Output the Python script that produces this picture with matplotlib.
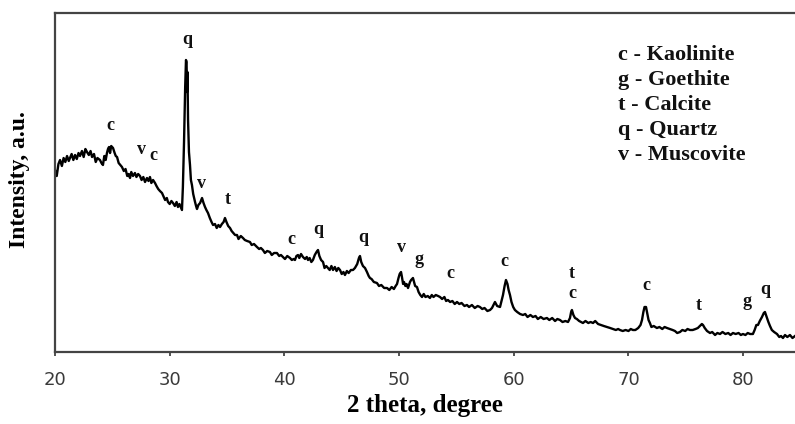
import matplotlib.pyplot as plt

# XRD pattern (2 theta in degrees, intensity in arbitrary units)
two_theta = [
    20.00, 20.15, 20.30, 20.44, 20.60, 20.75, 20.90, 21.05, 21.20, 21.31, 21.45, 21.60, 21.75, 21.90,
    22.05, 22.18, 22.35, 22.50, 22.65, 22.79, 22.95, 23.10, 23.23, 23.40, 23.55, 23.70, 23.92, 24.05,
    24.18, 24.30, 24.42, 24.53, 24.62, 24.71, 24.80, 24.90, 25.06, 25.20, 25.30, 25.41, 25.55, 25.70,
    25.84, 26.00, 26.15, 26.30, 26.42, 26.54, 26.65, 26.80, 26.97, 27.10, 27.25, 27.41, 27.55, 27.70,
    27.85, 28.02, 28.15, 28.28, 28.40, 28.55, 28.72, 28.85, 29.00, 29.15, 29.33, 29.45, 29.60, 29.75,
    29.85, 30.00, 30.15, 30.29, 30.45, 30.60, 30.72, 30.85, 30.99, 31.07, 31.15, 31.25, 31.35, 31.42,
    31.47, 31.51, 31.55, 31.60, 31.68, 31.77, 31.85, 31.94, 32.05, 32.21, 32.30, 32.38, 32.50, 32.65,
    32.82, 32.95, 33.08, 33.20, 33.34, 33.50, 33.65, 33.78, 33.95, 34.10, 34.25, 34.39, 34.55, 34.70,
    34.82, 34.95, 35.10, 35.26, 35.40, 35.55, 35.70, 35.87, 36.00, 36.20, 36.39, 36.55, 36.75, 37.00,
    37.15, 37.35, 37.61, 37.80, 37.95, 38.13, 38.30, 38.50, 38.74, 38.90, 39.10, 39.35, 39.55, 39.70,
    39.88, 40.05, 40.25, 40.49, 40.65, 40.80, 40.92, 41.05, 41.19, 41.30, 41.45, 41.62, 41.80, 41.95,
    42.06, 42.20, 42.35, 42.49, 42.65, 42.80, 42.93, 43.05, 43.20, 43.37, 43.50, 43.65, 43.80, 43.95,
    44.10, 44.24, 44.40, 44.55, 44.70, 44.85, 45.00, 45.15, 45.28, 45.45, 45.60, 45.80, 45.98, 46.15,
    46.35, 46.50, 46.59, 46.70, 46.85, 47.03, 47.20, 47.35, 47.46, 47.60, 47.80, 48.07, 48.25, 48.45,
    48.70, 48.95, 49.15, 49.35, 49.55, 49.70, 49.82, 49.95, 50.05, 50.17, 50.25, 50.35, 50.43, 50.55,
    50.65, 50.78, 50.95, 51.05, 51.21, 51.30, 51.40, 51.56, 51.70, 51.85, 52.00, 52.15, 52.30, 52.50,
    52.69, 52.85, 53.00, 53.20, 53.40, 53.57, 53.75, 53.95, 54.10, 54.26, 54.45, 54.65, 54.85, 55.05,
    55.25, 55.45, 55.70, 55.92, 56.10, 56.35, 56.60, 56.85, 57.05, 57.25, 57.45, 57.70, 57.93, 58.10,
    58.36, 58.55, 58.80, 58.95, 59.06, 59.20, 59.32, 59.45, 59.55, 59.67, 59.80, 59.95, 60.10, 60.30,
    60.55, 60.80, 61.00, 61.20, 61.45, 61.67, 61.90, 62.10, 62.35, 62.60, 62.89, 63.10, 63.35, 63.60,
    63.80, 64.03, 64.25, 64.50, 64.73, 64.90, 65.00, 65.07, 65.20, 65.34, 65.50, 65.70, 66.03, 66.25,
    66.50, 66.70, 66.91, 67.10, 67.35, 67.60, 67.85, 68.13, 68.40, 68.65, 68.90, 69.10, 69.26, 69.50,
    69.75, 70.00, 70.20, 70.39, 70.60, 70.85, 71.05, 71.18, 71.30, 71.40, 71.53, 71.65, 71.75, 71.87,
    72.00, 72.20, 72.48, 72.70, 72.95, 73.15, 73.36, 73.60, 73.85, 74.05, 74.25, 74.49, 74.70, 74.95,
    75.15, 75.36, 75.60, 75.85, 76.05, 76.23, 76.40, 76.50, 76.65, 76.85, 77.11, 77.30, 77.55, 77.75,
    77.98, 78.20, 78.45, 78.70, 78.90, 79.11, 79.35, 79.60, 79.80, 79.98, 80.20, 80.40, 80.60, 80.85,
    81.00, 81.15, 81.29, 81.45, 81.64, 81.80, 81.90, 82.05, 82.20, 82.34, 82.50, 82.70, 82.95, 83.15,
    83.30, 83.47, 83.65, 83.85, 84.08, 84.30, 84.52,
]
intensity = [
    182, 176, 188, 192, 186, 194, 190, 196, 191, 194, 198, 192, 197, 193,
    199, 196, 201, 195, 203, 200, 197, 201, 195, 198, 190, 194, 192, 189,
    187, 196, 192, 199, 203, 205, 199, 206, 204, 199, 196, 195, 189, 187,
    185, 181, 183, 176, 178, 174, 180, 176, 179, 175, 178, 176, 172, 175,
    170, 174, 171, 175, 169, 172, 169, 166, 163, 161, 159, 156, 152, 154,
    150, 148, 151, 149, 146, 150, 145, 148, 144, 142, 165, 210, 265, 292,
    290, 260, 280, 232, 200, 187, 172, 167, 158, 150, 146, 143, 147, 149,
    154, 149, 145, 142, 139, 134, 130, 127, 128, 124, 127, 125, 128, 130,
    134, 130, 126, 124, 121, 119, 117, 117, 113, 116, 114, 112, 111, 110,
    107, 108, 105, 103, 104, 102, 99, 101, 100, 97, 99, 99, 96, 97,
    95, 93, 96, 94, 92, 93, 92, 96, 97, 94, 98, 95, 93, 95,
    92, 94, 90, 92, 97, 100, 102, 96, 92, 90, 84, 86, 84, 82,
    86, 82, 85, 81, 84, 82, 78, 80, 77, 81, 79, 82, 82, 84,
    88, 94, 96, 90, 86, 84, 80, 76, 74, 73, 70, 69, 66, 67,
    64, 64, 62, 65, 63, 66, 68, 74, 78, 80, 75, 68, 70, 66,
    68, 64, 70, 72, 74, 70, 66, 65, 60, 57, 55, 58, 55, 56,
    54, 57, 55, 57, 56, 55, 53, 55, 51, 52, 50, 51, 48, 50,
    48, 49, 46, 47, 45, 47, 44, 46, 45, 43, 44, 41, 42, 44,
    50, 46, 45, 52, 57, 66, 72, 68, 62, 57, 50, 45, 42, 40,
    38, 37, 38, 35, 37, 35, 36, 33, 35, 33, 34, 32, 34, 31,
    33, 32, 30, 31, 30, 34, 40, 42, 37, 34, 33, 31, 29, 31,
    29, 30, 29, 31, 28, 27, 26, 25, 24, 23, 22, 23, 22, 21,
    22, 21, 23, 22, 22, 24, 27, 32, 40, 45, 45, 38, 32, 29,
    25, 26, 24, 25, 23, 25, 24, 23, 22, 21, 19, 20, 22, 21,
    23, 22, 22, 23, 24, 26, 28, 27, 24, 21, 19, 20, 17, 19,
    18, 20, 18, 19, 17, 19, 18, 19, 17, 18, 17, 19, 18, 18,
    22, 27, 27, 31, 35, 39, 40, 35, 30, 26, 22, 20, 18, 15,
    16, 14, 17, 15, 17, 14, 16,
]

# Phase labels above the peaks
peak_labels = ["q", "c", "v", "c", "v", "t", "c", "q", "q", "v", "g", "c", "c", "t", "c", "c", "t", "g", "q"]
peak_x = [31.5, 24.8, 27.5, 28.55, 32.73, 35.08, 40.58, 42.93, 46.85, 50.17, 51.73, 54.44,
          59.15, 65.07, 65.07, 71.53, 76.15, 80.33, 81.9]
peak_y = [312, 227, 203, 196, 169, 152, 112, 123, 115, 104, 93, 78, 91, 78, 59, 66, 46, 50, 62]

legend_lines = ["c - Kaolinite", "g - Goethite", "t - Calcite", "q - Quartz", "v - Muscovite"]

serif = ["Liberation Serif", "DejaVu Serif"]

fig = plt.figure(figsize=(7.95, 4.24), dpi=100)
ax = fig.add_axes([55 / 795, 72 / 424, 740 / 795, 339 / 424])

ax.plot(two_theta, intensity, color="black", linewidth=1.7)

for lab, x, y in zip(peak_labels, peak_x, peak_y):
    ax.text(x, y, lab, ha="center", va="center", fontsize=13, fontweight="bold",
            family=serif, color="#111111")

# key of phase letters, upper right
for i, line in enumerate(legend_lines):
    ax.text(618 / 795, 1 - (55 + i * 25) / 424, line, transform=fig.transFigure,
            ha="left", va="center", fontsize=16, fontweight="bold", family=serif, color="#111111")

ax.set_xlim(20, 84.52)
ax.set_ylim(0, 339)
ax.set_xticks([20, 30, 40, 50, 60, 70, 80])
ax.set_yticks([])
ax.tick_params(axis="x", direction="out", length=3, width=1.2, pad=11, labelsize=13,
               labelcolor="#3a3a3a", color="#333333")

for side in ["left", "bottom", "top"]:
    ax.spines[side].set_linewidth(1.6)
    ax.spines[side].set_color("#444444")
ax.spines["right"].set_visible(False)

ax.set_xlabel("2 theta, degree", fontsize=18, fontweight="bold", family=serif, labelpad=3)
fig.text(20 / 795, 1 - 180 / 424, "Intensity, a.u.", rotation=90, ha="center", va="center",
         fontsize=17, fontweight="bold", family=serif)

fig.savefig("out.png", dpi=100)
